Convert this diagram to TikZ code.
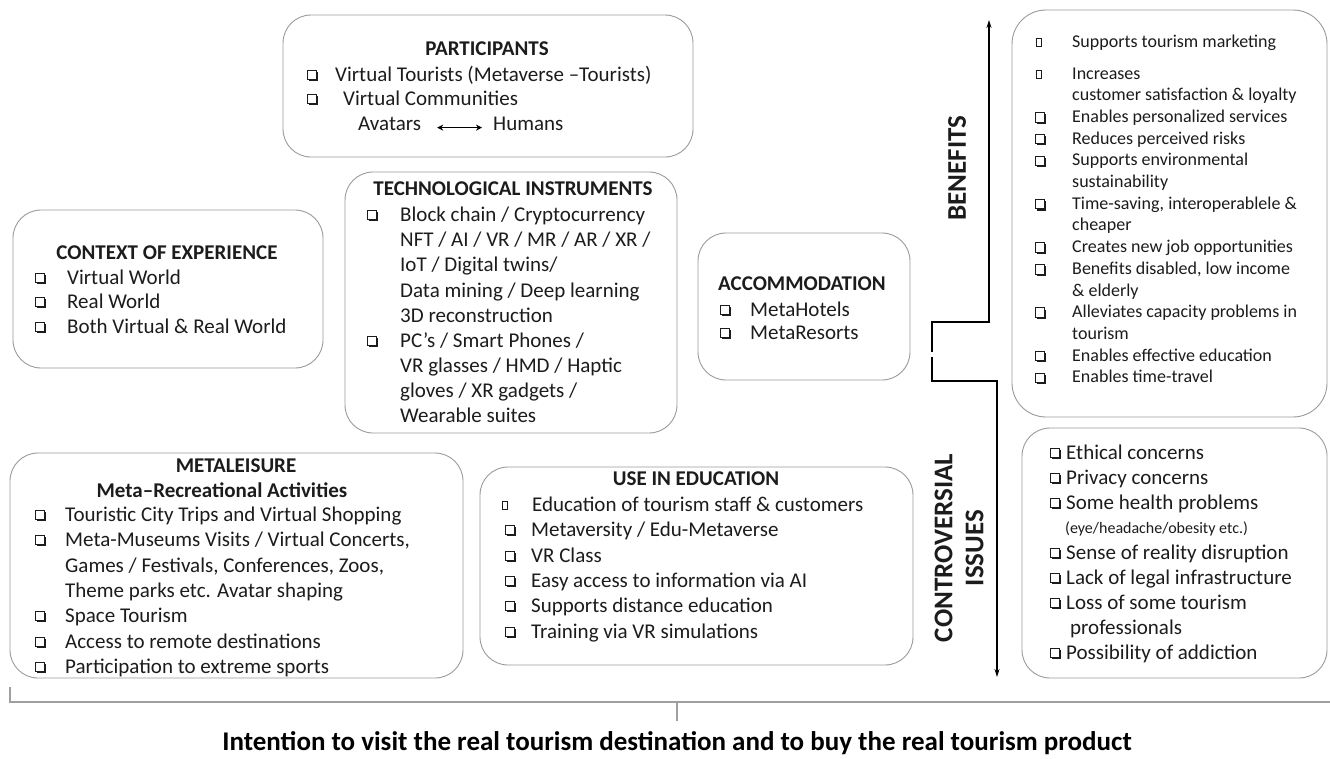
\documentclass[tikz,border=0pt]{standalone}
\usepackage{fontspec}
\setmainfont{Carlito}
\usetikzlibrary{arrows.meta,shadows}
\definecolor{boxgray}{RGB}{155,155,155}
\definecolor{ink}{RGB}{28,28,28}
\begin{document}
\begin{tikzpicture}[x=1pt,y=-1pt,
  box/.style={draw=boxgray, line width=0.9pt, rounded corners=28pt, inner sep=0pt},
  t/.style={anchor=base west, inner sep=0pt, text=ink, font=\fontsize{21}{25}\selectfont},
  ts/.style={anchor=base west, inner sep=0pt, text=ink, font=\fontsize{18}{22}\selectfont},
  tx/.style={anchor=base west, inner sep=0pt, text=ink, font=\fontsize{16}{19}\selectfont},
  tt/.style={anchor=base, inner sep=0pt, text=ink, font=\bfseries\fontsize{21}{25}\selectfont},
  cbx/.style={draw=ink, fill=white, line width=1pt, minimum size=9.5pt, inner sep=0pt,
    drop shadow={shadow xshift=1.6pt, shadow yshift=-1.6pt, fill=ink, opacity=1}},
  cbsm/.style={draw=ink, fill=white, line width=0.6pt, minimum width=5pt, minimum height=8pt, inner sep=0pt},
  lab/.style={inner sep=0pt, text=ink, align=center, font=\bfseries\fontsize{27}{31}\selectfont},
  arr/.style={draw=black, line width=1.1pt, -{Stealth[length=8pt,width=5pt]}},
  dbl/.style={draw=black, line width=1.5pt, {Stealth[length=6pt,width=6pt]}-{Stealth[length=6pt,width=6pt]}},
  brace/.style={draw=gray!75, line width=1.6pt}
]
\useasboundingbox (0,0) rectangle (1330,758);
\fill[white] (0,0) rectangle (1330,758);

% ---------- boxes
\node[box, minimum width=410pt, minimum height=142pt] (part) at (488,86) {};
\node[box, minimum width=332pt, minimum height=261pt] (tech) at (511,302.5) {};
\node[box, minimum width=310pt, minimum height=158pt] (ctx) at (168,289) {};
\node[box, minimum width=212pt, minimum height=147pt] (acc) at (804,306.5) {};
\node[box, minimum width=315pt, minimum height=407pt, rounded corners=34pt] (ben) at (1169.5,213.5) {};
\node[box, minimum width=305pt, minimum height=250pt] (con) at (1174.5,553) {};
\node[box, minimum width=453pt, minimum height=225pt] (meta) at (236.5,565.5) {};
\node[box, minimum width=433pt, minimum height=198pt] (edu) at (696.5,566) {};

% ---------- participants
\node[tt] (ptitle) at (487,55) {PARTICIPANTS};
\node[cbx] (pc1) at (312,75) {};
\node[t] (p1) at (335,81) {Virtual Tourists (Metaverse –Tourists)};
\node[cbx] (pc2) at (312,99) {};
\node[t] (p2) at (343,105) {Virtual Communities};
\node[t] (av) at (358,130) {Avatars};
\node[t] (hu) at (493,130) {Humans};
\draw[dbl] ([xshift=16pt]av.mid east) -- ([xshift=-11pt]hu.mid west);

% ---------- technological instruments
\node[tt] (ttitle) at (513,195) {TECHNOLOGICAL INSTRUMENTS};
\foreach \y/\k/\s [count=\i] in {221/1/{Block chain / Cryptocurrency}, 246/0/{NFT / AI / VR / MR / AR / XR /},
  271/0/{IoT / Digital twins/}, 297/0/{Data mining / Deep learning}, 322/0/{3D reconstruction},
  347/1/{PC’s / Smart Phones /}, 372/0/{VR glasses / HMD / Haptic}, 397/0/{gloves / XR gadgets /},
  422/0/{Wearable suites}}{
  \node[t] (tl\i) at (400,\y) {\s};
  \ifnum\k=1 \node[cbx] (tc\i) at (372,{\y-6}) {}; \fi
}

% ---------- context of experience
\node[tt] (ctitle) at (167,259) {CONTEXT OF EXPERIENCE};
\foreach \y/\s [count=\i] in {284/{Virtual World}, 308/{Real World}, 333/{Both Virtual \& Real World}}{
  \node[cbx] (cc\i) at (40,{\y-6}) {};
  \node[t] (cl\i) at (67,\y) {\s};
}

% ---------- accommodation
\node[tt] (atitle) at (802,290) {ACCOMMODATION};
\foreach \y/\s [count=\i] in {316/{MetaHotels}, 339/{MetaResorts}}{
  \node[cbx] (ac\i) at (725,{\y-6}) {};
  \node[t] (al\i) at (750,\y) {\s};
}

% ---------- benefits
\foreach \y/\k/\s [count=\i] in {47/2/{Supports tourism marketing}, 79/2/{Increases},
  100.7/0/{customer satisfaction \& loyalty}, 122.4/1/{Enables personalized services},
  144.1/1/{Reduces perceived risks}, 165.8/1/{Supports environmental}, 187.5/0/{sustainability},
  209.2/1/{Time-saving, interoperablele \&}, 230.9/0/{cheaper}, 252.6/1/{Creates new job opportunities},
  274.3/1/{Benefits disabled, low income}, 296/0/{\& elderly}, 317.7/1/{Alleviates capacity problems in},
  339.4/0/{tourism}, 361.1/1/{Enables effective education}, 382.8/1/{Enables time-travel}}{
  \node[ts] (bl\i) at (1072,\y) {\s};
  \ifnum\k=1 \node[cbx] (bc\i) at (1040,{\y-5}) {}; \fi
  \ifnum\k=2 \node[cbsm] (bc\i) at (1039,{\y-5}) {}; \fi
}

% ---------- controversial issues
\foreach \y/\k/\s [count=\i] in {459/1/{Ethical concerns}, 484/1/{Privacy concerns}, 509/1/{Some health problems},
  559/1/{Sense of reality disruption}, 584/1/{Lack of legal infrastructure}, 609/1/{Loss of some tourism},
  634/0/{professionals}, 659/1/{Possibility of addiction}}{
  \ifnum\k=1 \node[cbx] (kc\i) at (1055,{\y-6}) {}; \node[t] (kl\i) at (1066,\y) {\s};
  \else \node[t] (kl\i) at (1070,\y) {\s}; \fi
}
\node[tx] (kx) at (1065,533) {(eye/headache/obesity etc.)};

% ---------- metaleisure
\node[tt] (mtitle) at (236,472) {METALEISURE};
\node[tt] (msub) at (222,497) {Meta–Recreational Activities};
\foreach \y/\k/\s [count=\i] in {521/1/{Touristic City Trips and Virtual Shopping},
  546/1/{Meta-Museums Visits / Virtual Concerts,}, 572/0/{Games / Festivals, Conferences, Zoos,},
  597/0/{Theme parks etc. Avatar shaping}, 622/1/{Space Tourism}, 648/1/{Access to remote destinations},
  673/1/{Participation to extreme sports}}{
  \node[t] (ml\i) at (65,\y) {\s};
  \ifnum\k=1 \node[cbx] (mc\i) at (40,{\y-6}) {}; \fi
}

% ---------- education
\node[tt] (etitle) at (696,485) {USE IN EDUCATION};
\node[cbsm] (ec1) at (505,505) {};
\node[t] (el1) at (532,511) {Education of tourism staff \& customers};
\foreach \y/\s [count=\i from 2] in {536/{Metaversity / Edu-Metaverse}, 562/{VR Class},
  587/{Easy access to information via AI}, 612/{Supports distance education}, 638/{Training via VR simulations}}{
  \node[cbx] (ec\i) at (510,{\y-6}) {};
  \node[t] (el\i) at (531,\y) {\s};
}

% ---------- benefits / controversial axis
\node[lab, rotate=90] (benl) at (957,168) {BENEFITS};
\node[lab, rotate=90] (conl) at (959,548) {CONTROVERSIAL\\ISSUES};
\coordinate (ctop) at (989,20);
\coordinate (c1) at (989,322);
\coordinate (c2) at (932,322);
\coordinate (c3) at (932,352);
\coordinate (c4) at (932,357);
\coordinate (c5) at (932,381);
\coordinate (c6) at (997,381);
\coordinate (cbot) at (997,677);
\draw[arr] (c3) -- (c2) -- (c1) -- (ctop);
\draw[arr] (c4) -- (c5) -- (c6) -- (cbot);

% ---------- bottom brace and conclusion
\coordinate (bl) at (10,687);
\coordinate (bc) at (10,702);
\coordinate (br) at (1330,702);
\coordinate (tk) at (677,702);
\coordinate (tkb) at (677,721);
\draw[brace] (bl) -- (bc) -- (br);
\draw[brace] (tk) -- (tkb);
\node[anchor=base, inner sep=0pt, text=black, font=\bfseries\fontsize{27}{31}\selectfont] (goal) at (677,750)
  {Intention to visit the real tourism destination and to buy the real tourism product};
\end{tikzpicture}
\end{document}
